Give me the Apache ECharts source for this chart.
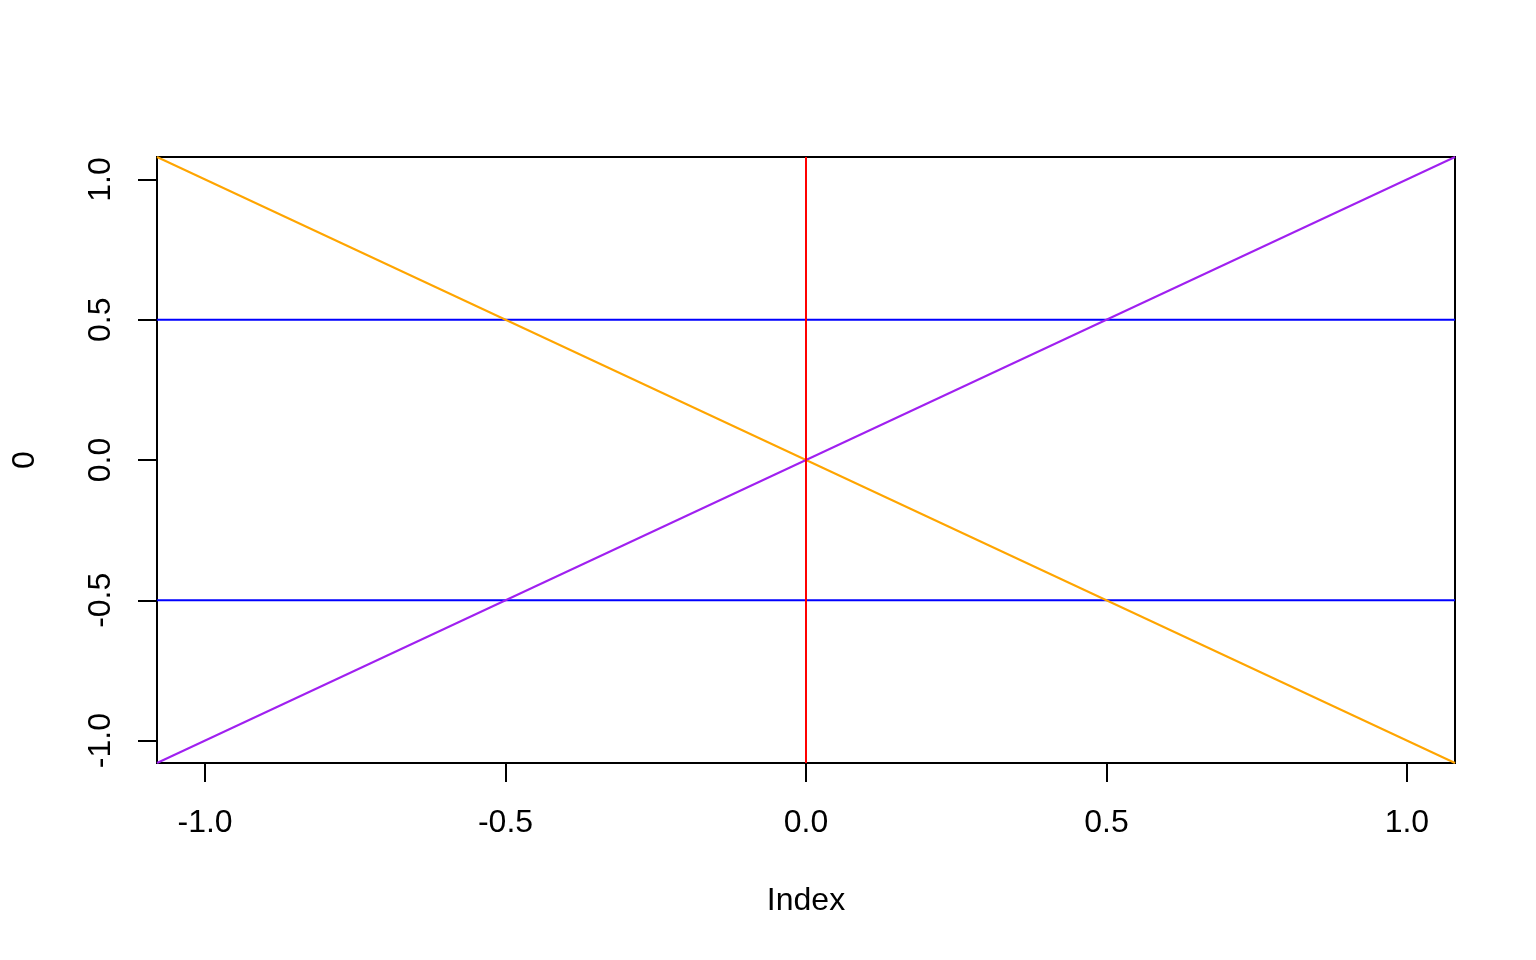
<!DOCTYPE html>
<html>
<head>
<meta charset="utf-8">
<script src="https://cdn.jsdelivr.net/npm/echarts@6/dist/echarts.min.js"></script>
<style>html,body{margin:0;padding:0;background:#fff}#c{width:1536px;height:960px}</style>
</head>
<body>
<div id="c"></div>
<script>
const xRange = [-1.08, 1.08];
const yRange = [-1.08, 1.08];
const xTicks = [-1.0, -0.5, 0.0, 0.5, 1.0];
const yTicks = [-1.0, -0.5, 0.0, 0.5, 1.0];
const redLine = [[0, -1.08], [0, 1.08]];
const blueLineTop = [[-1.08, 0.5], [1.08, 0.5]];
const blueLineBottom = [[-1.08, -0.5], [1.08, -0.5]];
const purpleLine = [[-1.08, -1.08], [1.08, 1.08]];
const orangeLine = [[-1.08, 1.08], [1.08, -1.08]];
const xName = 'Index';
const yName = '0';

const font = 'Liberation Sans, Arial, Helvetica, sans-serif';
const chart = echarts.init(document.getElementById('c'), null, {renderer: 'canvas'});
function ln(data, color) {
  return {type: 'line', data: data, showSymbol: false, symbol: 'none', clip: true,
    lineStyle: {color: color, width: 2}, animation: false, silent: true};
}
chart.setOption({
  animation: false,
  backgroundColor: '#fff',
  grid: {left: 157, right: 81, top: 157, bottom: 197, show: true, borderColor: '#000', borderWidth: 2,
    backgroundColor: 'transparent', containLabel: false, outerBoundsMode: 'none'},
  xAxis: {
    type: 'value', min: xRange[0], max: xRange[1],
    splitLine: {show: false},
    axisLine: {show: true, onZero: false, lineStyle: {color: '#000', width: 2}},
    axisTick: {show: true, inside: false, length: 19, lineStyle: {color: '#000', width: 2}, customValues: xTicks},
    axisLabel: {show: true, customValues: xTicks, color: '#000', fontSize: 32, fontFamily: font, margin: 44,
      formatter: v => v.toFixed(1)},
    name: xName, nameLocation: 'middle', nameGap: 122,
    nameTextStyle: {color: '#000', fontSize: 32, fontFamily: font}
  },
  yAxis: {
    type: 'value', min: yRange[0], max: yRange[1],
    splitLine: {show: false},
    axisLine: {show: true, onZero: false, lineStyle: {color: '#000', width: 2}},
    axisTick: {show: true, inside: false, length: 19, lineStyle: {color: '#000', width: 2}, customValues: yTicks},
    axisLabel: {show: true, customValues: yTicks, color: '#000', fontSize: 32, fontFamily: font, margin: 40, rotate: 90,
      formatter: v => v.toFixed(1)},
    name: yName, nameLocation: 'middle', nameGap: 116, nameRotate: 90,
    nameTextStyle: {color: '#000', fontSize: 32, fontFamily: font}
  },
  series: [
    ln(blueLineTop, '#0000FF'),
    ln(blueLineBottom, '#0000FF'),
    ln(orangeLine, '#FFA500'),
    ln(purpleLine, '#A020F0'),
    ln(redLine, '#FF0000')
  ]
});
</script>
</body>
</html>
